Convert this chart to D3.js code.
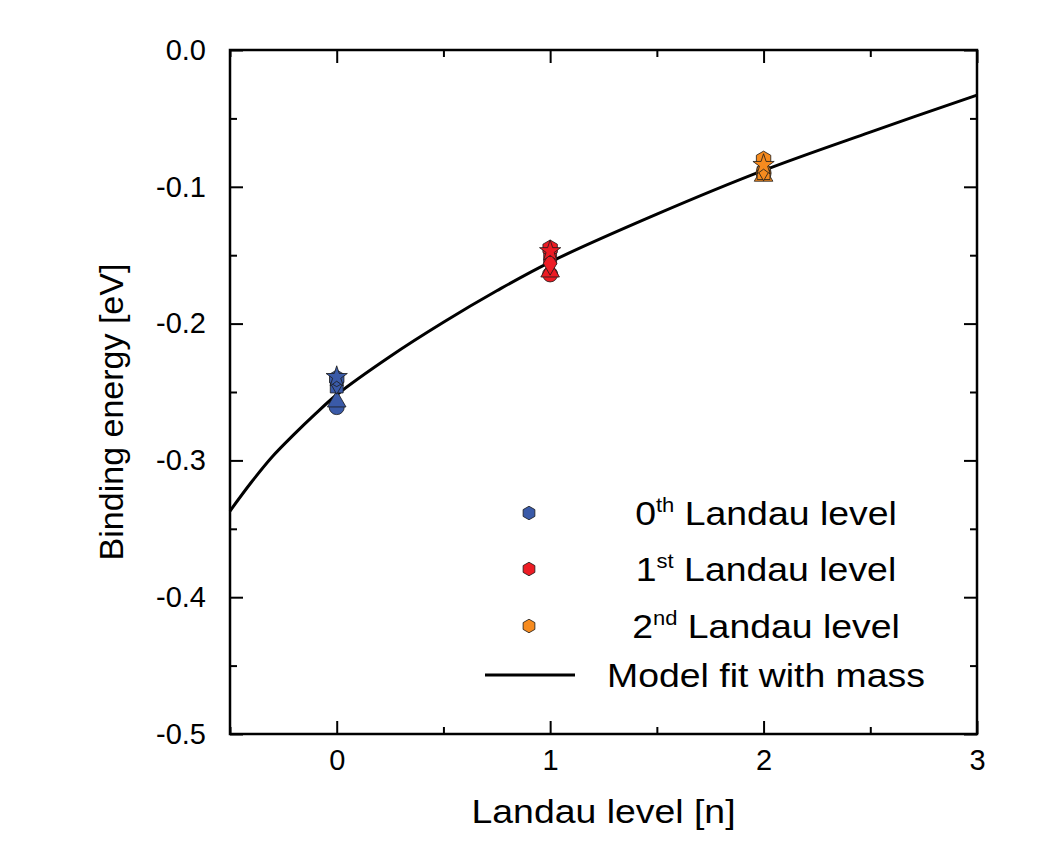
<!DOCTYPE html>
<html>
<head>
<meta charset="utf-8">
<script src="https://cdn.jsdelivr.net/npm/d3@7"></script>
<style>
  body { margin: 0; background: #fff; }
  svg text { font-family: "Liberation Sans", Arial, Helvetica, sans-serif; fill: #000; }
</style>
</head>
<body>
<div id="chart"></div>
<script>
// ---- data ----
var levels = [0, 1, 2]
var levelNames = ["th", "st", "nd"]
var levelColors = ["#3a5aa8", "#ed1c24", "#f68b1f"]
var shapes = ["circle", "triangle", "square", "diamond", "hexagon", "star"]
var level0Energy = [-0.261, -0.257, -0.246, -0.243, -0.240, -0.239]
var level1Energy = [-0.164, -0.162, -0.152, -0.156, -0.145, -0.147]
var level2Energy = [-0.090, -0.092, -0.090, -0.087, -0.080, -0.084]

// model fit curve
var fitN = [-0.5, -0.4, -0.3, -0.2, -0.1, 0, 0.25, 0.5, 0.75, 1, 1.5, 2, 2.5, 3]
var fitE = [-0.337, -0.316, -0.297, -0.281, -0.266, -0.252, -0.224, -0.199, -0.176, -0.155, -0.120, -0.088, -0.060, -0.033]

var xTicks = [0, 1, 2, 3]
var xMinor = [-0.5, 0.5, 1.5, 2.5]
var yTicks = [0, -0.1, -0.2, -0.3, -0.4, -0.5]
var yMinor = [-0.05, -0.15, -0.25, -0.35, -0.45]

var W = 1051, H = 860
var margin = {top: 50, right: 74, bottom: 126, left: 230},
    width = W - margin.left - margin.right,
    height = H - margin.top - margin.bottom
var stretch = 1.1   // titles in the original are a bit wide

var svg = d3.select("#chart").append("svg")
    .attr("width", W).attr("height", H)

var g = svg.append("g")
    .attr("transform", "translate(" + margin.left + "," + margin.top + ")")

var x = d3.scaleLinear().domain([-0.5, 3]).range([0, width])
var y = d3.scaleLinear().domain([-0.5, 0]).range([height, 0])

// hexagon symbol (d3 has none)
var symbolHexagon = {
  draw: function(context, size) {
    var r = Math.sqrt(size / (1.5 * Math.sqrt(3)))
    for (var i = 0; i < 6; i++) {
      var a = Math.PI / 3 * i - Math.PI / 2
      if (i == 0) context.moveTo(r * Math.cos(a), r * Math.sin(a))
      else context.lineTo(r * Math.cos(a), r * Math.sin(a))
    }
    context.closePath()
  }
}
var symbolTypes = {
  circle: [d3.symbolCircle, 180],
  triangle: [d3.symbolTriangle, 150],
  square: [d3.symbolSquare, 165],
  diamond: [d3.symbolDiamond, 160],
  hexagon: [symbolHexagon, 180],
  star: [d3.symbolStar, 140]
}

// axes: major + minor ticks, pointing inward on all four sides
function fmtY(d) { return d.toFixed(1) }

g.append("g").attr("class", "axis")
  .call(d3.axisLeft(y).tickValues(yTicks).tickSize(-13).tickPadding(24).tickFormat(fmtY))
g.append("g").attr("class", "axis")
  .call(d3.axisLeft(y).tickValues(yMinor).tickSize(-7).tickFormat(""))
g.append("g").attr("class", "axis").attr("transform", "translate(" + width + ",0)")
  .call(d3.axisRight(y).tickValues(yTicks).tickSize(-13).tickFormat(""))
g.append("g").attr("class", "axis").attr("transform", "translate(" + width + ",0)")
  .call(d3.axisRight(y).tickValues(yMinor).tickSize(-7).tickFormat(""))

g.append("g").attr("class", "axis").attr("transform", "translate(0," + height + ")")
  .call(d3.axisBottom(x).tickValues(xTicks).tickSize(-13).tickPadding(15).tickFormat(d3.format("d")))
g.append("g").attr("class", "axis").attr("transform", "translate(0," + height + ")")
  .call(d3.axisBottom(x).tickValues(xMinor).tickSize(-7).tickFormat(""))
g.append("g").attr("class", "axis")
  .call(d3.axisTop(x).tickValues(xTicks).tickSize(-13).tickFormat(""))
g.append("g").attr("class", "axis")
  .call(d3.axisTop(x).tickValues(xMinor).tickSize(-7).tickFormat(""))

g.selectAll(".axis .domain").remove()
g.selectAll(".axis line").attr("stroke", "#000").attr("stroke-width", 2)
g.selectAll(".axis text").style("font-size", "29px").attr("fill", "#000")

g.append("rect")
  .attr("width", width).attr("height", height)
  .attr("fill", "none").attr("stroke", "#000").attr("stroke-width", 2.5)

// fit curve
var fitData = fitN.map(function(n, i) { return [n, fitE[i]] })
var line = d3.line()
  .x(function(d) { return x(d[0]) })
  .y(function(d) { return y(d[1]) })
  .curve(d3.curveCatmullRom)

g.append("path").datum(fitData)
  .attr("d", line)
  .attr("fill", "none").attr("stroke", "#000").attr("stroke-width", 3)

// data points
var energies = [level0Energy, level1Energy, level2Energy]
var points = []
levels.forEach(function(lv, i) {
  energies[i].forEach(function(e, j) {
    points.push({n: lv, e: e, shape: shapes[j], color: levelColors[i]})
  })
})

g.selectAll(".pt").data(points).enter().append("path")
  .attr("class", "pt")
  .attr("transform", function(d) { return "translate(" + x(d.n) + "," + y(d.e) + ")" })
  .attr("d", function(d) { var s = symbolTypes[d.shape]; return d3.symbol().type(s[0]).size(s[1])() })
  .attr("fill", function(d) { return d.color })
  .attr("stroke", "#1a1a1a").attr("stroke-width", 0.8)

// axis titles
svg.append("text")
  .attr("transform", "translate(" + (margin.left + width / 2) + ",823) scale(" + stretch + ",1)")
  .attr("text-anchor", "middle")
  .style("font-size", "34px")
  .text("Landau level [n]")

svg.append("text")
  .attr("transform", "translate(123,412) rotate(-90)")
  .attr("text-anchor", "middle")
  .style("font-size", "34px")
  .text("Binding energy [eV]")

// legend
var legX = 529, legTextX = 766
var legY = [513, 569, 626]
levels.forEach(function(lv, i) {
  svg.append("path")
    .attr("transform", "translate(" + legX + "," + legY[i] + ")")
    .attr("d", d3.symbol().type(symbolHexagon).size(120)())
    .attr("fill", levelColors[i]).attr("stroke", "#1a1a1a").attr("stroke-width", 0.8)
  var t = svg.append("text")
    .attr("transform", "translate(" + legTextX + "," + (legY[i] + 12) + ") scale(" + stretch + ",1)")
    .attr("text-anchor", "middle")
    .style("font-size", "34px")
  t.append("tspan").text(lv)
  t.append("tspan").attr("dy", -13).style("font-size", "20px").text(levelNames[i])
  t.append("tspan").attr("dy", 13).text(" Landau level")
})
svg.append("line")
  .attr("x1", 485).attr("x2", 575).attr("y1", 675).attr("y2", 675)
  .attr("stroke", "#000").attr("stroke-width", 3)
svg.append("text")
  .attr("transform", "translate(" + legTextX + ",687) scale(" + stretch + ",1)")
  .attr("text-anchor", "middle")
  .style("font-size", "34px")
  .text("Model fit with mass")
</script>
</body>
</html>
